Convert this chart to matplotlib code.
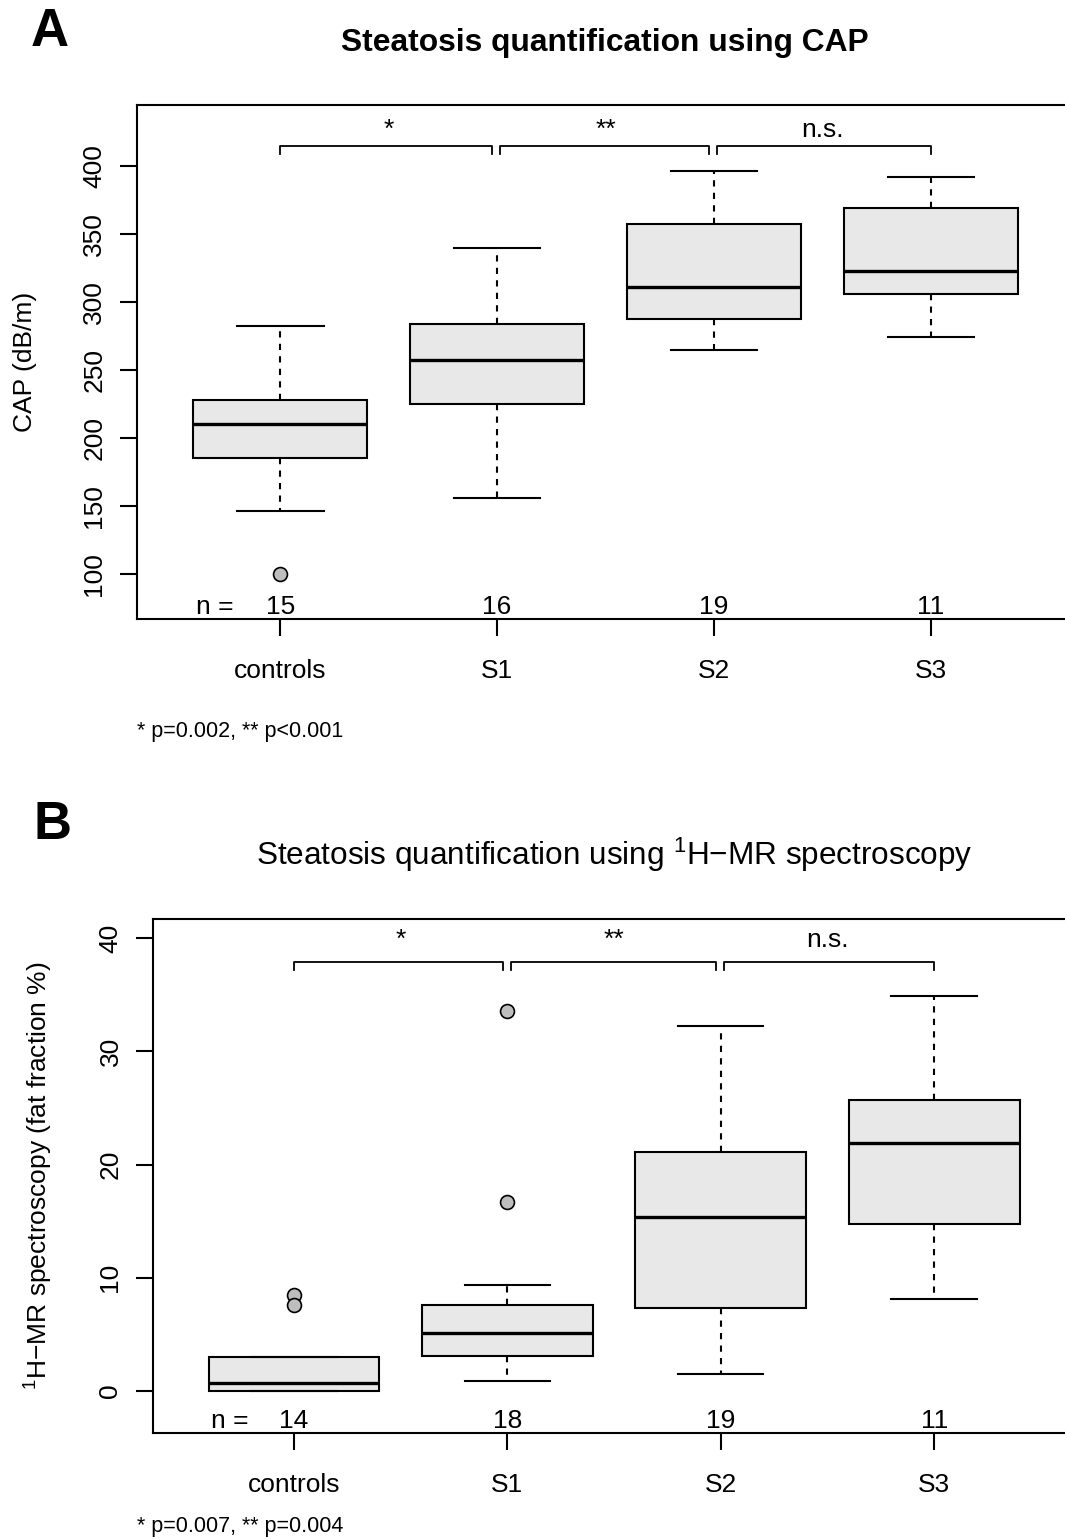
import numpy as np
import matplotlib.pyplot as plt

plt.rcParams['font.family'] = ['Liberation Sans', 'DejaVu Sans']
plt.rcParams['mathtext.fontset'] = 'custom'
plt.rcParams['mathtext.rm'] = 'Liberation Sans'
plt.rcParams['mathtext.default'] = 'regular'

groups = ['controls', 'S1', 'S2', 'S3']

# Panel A - CAP (dB/m)
cap_whislo = [146, 156, 265, 274]
cap_q1 = [185, 225, 287.5, 306]
cap_med = [210, 257, 311, 323]
cap_q3 = [228, 284, 357.5, 369]
cap_whishi = [282, 340, 396, 392]
cap_fliers = [[100], [], [], []]
cap_n = [15, 16, 19, 11]
cap_signif = ['*', '**', 'n.s.']

# Panel B - 1H-MR spectroscopy (fat fraction %)
mrs_whislo = [0.0, 0.9, 1.5, 8.1]
mrs_q1 = [0.05, 3.1, 7.3, 14.8]
mrs_med = [0.75, 5.15, 15.4, 21.9]
mrs_q3 = [3.0, 7.6, 21.1, 25.7]
mrs_whishi = [3.0, 9.4, 32.2, 34.9]
mrs_fliers = [[8.45, 7.6], [33.6, 16.7], [], []]
mrs_n = [14, 18, 19, 11]
mrs_signif = ['*', '**', 'n.s.']

FS = 19


def draw_panel(ax, whislo, q1, med, q3, whishi, fliers, n, signif,
               ylim, yticks, br_y, br_drop, sig_y, n_y):
    stats = []
    for i in range(len(groups)):
        stats.append(dict(whislo=whislo[i], q1=q1[i], med=med[i], q3=q3[i],
                          whishi=whishi[i], fliers=fliers[i], label=groups[i]))
    pos = np.arange(1, len(groups) + 1)
    ax.bxp(stats, positions=pos, widths=0.8, capwidths=0.4, patch_artist=True,
           boxprops=dict(facecolor='#e8e8e8', edgecolor='black', linewidth=1.5),
           medianprops=dict(color='black', linewidth=2.4),
           whiskerprops=dict(color='black', linewidth=1.5, linestyle=(0, (3, 3))),
           capprops=dict(color='black', linewidth=1.5),
           flierprops=dict(marker='o', markerfacecolor='#bebebe',
                           markeredgecolor='black', markersize=10,
                           markeredgewidth=1.2))
    ax.set_xlim(0.34, 4.66)
    ax.set_ylim(*ylim)
    ax.set_yticks(yticks)
    ax.set_xticks(pos)
    ax.set_xticklabels(groups)
    ax.tick_params(axis='both', direction='out', length=12, width=1.5,
                   labelsize=FS)
    ax.tick_params(axis='y', labelrotation=90, pad=10)
    ax.tick_params(axis='x', pad=17)
    for lbl in ax.get_yticklabels():
        lbl.set_va('center')
    for s in ['left', 'top', 'bottom']:
        ax.spines[s].set_linewidth(1.5)
    ax.spines['right'].set_visible(False)

    # significance brackets
    last = len(groups) - 1
    for k in range(len(signif)):
        x0 = pos[k] + (0.015 if k > 0 else 0)
        x1 = pos[k + 1] - (0.022 if k + 1 < last else 0)
        ax.plot([x0, x0, x1, x1], [br_y - br_drop, br_y, br_y, br_y - br_drop],
                color='black', lw=1.3, clip_on=False)
        ax.text((pos[k] + pos[k + 1]) / 2, sig_y, signif[k], ha='center',
                va='baseline', fontsize=FS)

    # sample sizes
    ax.text(pos[0] - 0.3, n_y, 'n =', ha='center', va='center', fontsize=FS)
    for p, v in zip(pos, n):
        ax.text(p, n_y, str(v), ha='center', va='center', fontsize=FS)


fig = plt.figure(figsize=(10.65, 15.39), dpi=100)

axA = fig.add_axes([0.1286, 0.5978, 0.8799, 0.3340])
draw_panel(axA, cap_whislo, cap_q1, cap_med, cap_q3, cap_whishi, cap_fliers,
           cap_n, cap_signif, (66.9, 444.9), np.arange(100, 401, 50),
           414.7, 5.5, 421.3, 75.5)
axA.set_ylabel('CAP (dB/m)', fontsize=FS)
axA.yaxis.set_label_coords(-0.1067, 0.5)

axB = fig.add_axes([0.1437, 0.0689, 0.8657, 0.3340])
draw_panel(axB, mrs_whislo, mrs_q1, mrs_med, mrs_q3, mrs_whishi, mrs_fliers,
           mrs_n, mrs_signif, (-3.7, 41.7), np.arange(0, 41, 10),
           37.9, 0.7, 39.2, -2.65)
axB.set_ylabel('$^1$H\u2212MR spectroscopy (fat fraction %)', fontsize=FS)
axB.yaxis.set_label_coords(-0.1063, 0.5)

fig.text(0.047, 0.979, 'A', fontsize=38, fontweight='bold', ha='center', va='center')
fig.text(0.568, 0.972, 'Steatosis quantification using CAP', fontsize=22.9,
         fontweight='bold', ha='center', va='center')
fig.text(0.1286, 0.525, '* p=0.002, ** p<0.001', fontsize=15.5, ha='left', va='center')

fig.text(0.049, 0.464, 'B', fontsize=38, fontweight='bold', ha='center', va='center')
fig.text(0.5765, 0.4444, 'Steatosis quantification using $^1$H\u2212MR spectroscopy',
         fontsize=22.7, ha='center', va='center')
fig.text(0.1286, 0.0084, '* p=0.007, ** p=0.004', fontsize=15.5, ha='left', va='center')

fig.savefig('out.png', dpi=100)
